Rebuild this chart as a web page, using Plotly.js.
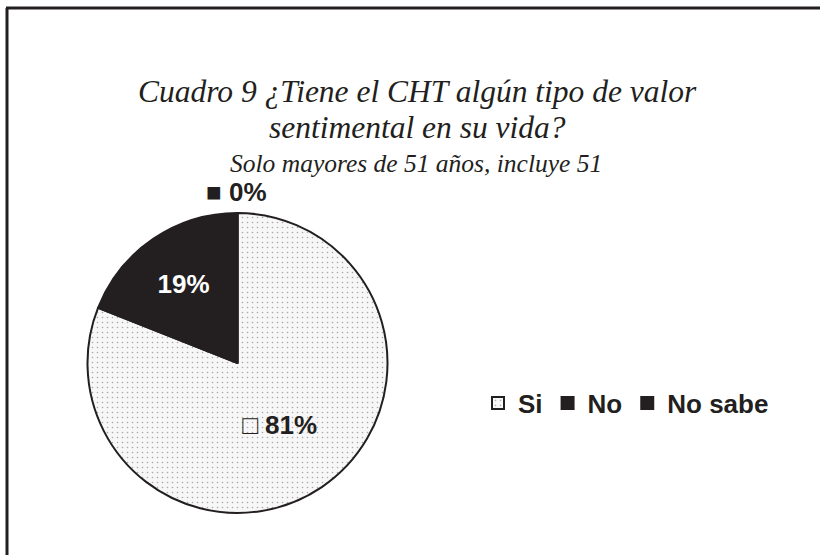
<!DOCTYPE html>
<html>
<head>
<meta charset="utf-8">
<script src="https://cdn.plot.ly/plotly-3.0.1.min.js"></script>
<style>html,body{margin:0;padding:0;background:#fff;}#chart{width:820px;height:555px;}</style>
</head>
<body>
<div id="chart"></div>
<script>
var categories = ["Si", "No", "No sabe"];
var percents = [81, 19, 0];
var sliceColors = ["#eeeeee", "#231f20", "#231f20"];
var legendKeys = ["\u25A1", "\u25A0", "\u25A0"];
var titleLines = ["Cuadro 9 ¿Tiene el CHT algún tipo de valor", "sentimental en su vida?"];
var subtitle = "Solo mayores de 51 años, incluye 51";

var texts = percents.map(function (p, i) {
  if (i === 0) return legendKeys[i] + " " + p + "%";
  if (i === 1) return p + "%";
  return "";
});
var textColors = ["#231f20", "#ffffff", "#231f20"];
var sansBold = "Liberation Sans, Arial, sans-serif";
var serif = "Liberation Serif, Times New Roman, serif";

var trace = {
  type: "pie",
  labels: categories,
  values: percents,
  sort: false,
  direction: "clockwise",
  rotation: 0,
  text: texts,
  textinfo: "text",
  textposition: "inside",
  insidetextorientation: "horizontal",
  textfont: {family: sansBold, size: 26, color: textColors, weight: "bold"},
  marker: {
    colors: sliceColors,
    line: {color: "#231f20", width: 2},
    pattern: {shape: [".", "", ""], fgcolor: "#a8a8a8", bgcolor: "#f7f7f7", size: 5, solidity: 0.08}
  },
  domain: {x: [87.5/820, 387.5/820], y: [42/555, 342/555]},
  hoverinfo: "label+percent",
  showlegend: true
};

var layout = {
  width: 820, height: 555,
  margin: {l: 0, r: 0, t: 0, b: 0, autoexpand: false},
  paper_bgcolor: "#ffffff",
  font: {family: sansBold, color: "#231f20"},
  showlegend: true,
  legend: {
    orientation: "h",
    x: 478/820, xanchor: "left",
    y: 1 - 403/555, yanchor: "middle",
    font: {family: sansBold, size: 26, color: "#231f20", weight: "bold"},
    traceorder: "normal",
    bgcolor: "rgba(0,0,0,0)"
  },
  annotations: [
    {text: titleLines[0], x: 417/820, y: 1 - 91/555, xref: "paper", yref: "paper", yanchor: "middle", xanchor: "center", showarrow: false,
     font: {family: serif, size: 31.5, color: "#231f20", style: "italic"}},
    {text: titleLines[1], x: 417/820, y: 1 - 127/555, xref: "paper", yref: "paper", yanchor: "middle", xanchor: "center", showarrow: false,
     font: {family: serif, size: 31.5, color: "#231f20", style: "italic"}},
    {text: subtitle, x: 416/820, y: 1 - 163/555, xref: "paper", yref: "paper", yanchor: "middle", xanchor: "center", showarrow: false,
     font: {family: serif, size: 25.5, color: "#231f20", style: "italic"}},
    {text: legendKeys[2] + " " + percents[2] + "%", x: 237/820, y: 1 - 192/555, xref: "paper", yref: "paper", yanchor: "middle", xanchor: "center", showarrow: false,
     font: {family: sansBold, size: 26, color: "#231f20", weight: "bold"}}
  ],
  shapes: [
    {type: "line", xref: "paper", yref: "paper", x0: 6/820, x1: 1, y0: 1 - 8/555, y1: 1 - 8/555, line: {color: "#231f20", width: 3}},
    {type: "line", xref: "paper", yref: "paper", x0: 7/820, x1: 7/820, y0: 1 - 8/555, y1: 0, line: {color: "#231f20", width: 3}}
  ]
};

Plotly.newPlot("chart", [trace], layout, {displayModeBar: false, staticPlot: true});
</script>
</body>
</html>
